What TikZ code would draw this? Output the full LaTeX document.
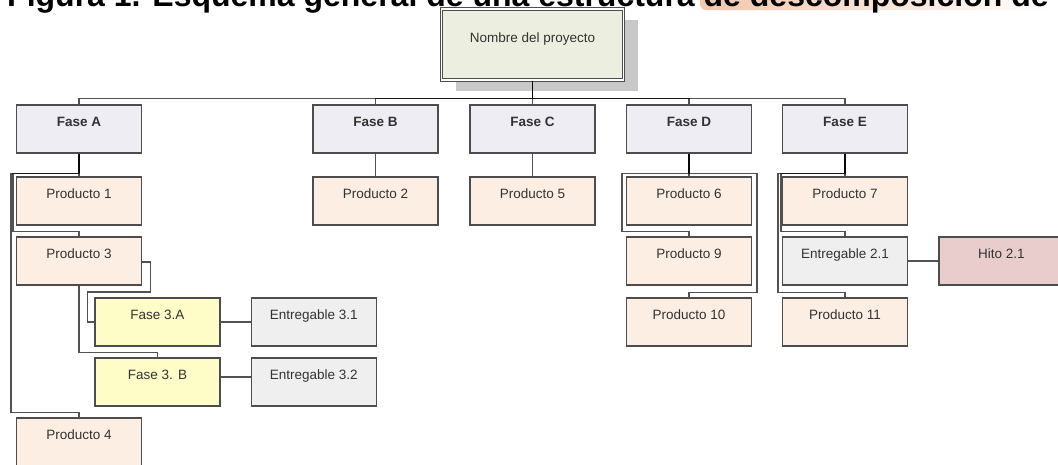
\documentclass[tikz,border=0pt]{standalone}
\usepackage{fontspec}
\setmainfont{Liberation Sans}
\usetikzlibrary{shadows}
\definecolor{boxline}{HTML}{4D4D4D}
\definecolor{fasefill}{HTML}{EDEDF3}
\definecolor{prodfill}{HTML}{FCEEE3}
\definecolor{subfill}{HTML}{FEFDC8}
\definecolor{entfill}{HTML}{EFEFEF}
\definecolor{hitofill}{HTML}{E9CDCD}
\definecolor{rootfill}{HTML}{ECEFDF}
\definecolor{textcol}{HTML}{333333}
\definecolor{shadowcol}{HTML}{C8C8C8}
\definecolor{hlmid}{HTML}{E4A07A}
\definecolor{hlleft}{HTML}{F1C6AC}
\tikzset{
  box/.style={draw=boxline, line width=1.3pt, minimum width=125pt, text height=21pt, text depth=27pt, inner sep=0pt, font=\fontsize{13.5}{16}\selectfont, text=textcol},
  fase/.style={box, fill=fasefill, font=\fontsize{13.5}{16}\selectfont\bfseries},
  prod/.style={box, fill=prodfill},
  subf/.style={box, fill=subfill},
  ent/.style={box, fill=entfill},
  hito/.style={box, fill=hitofill},
  rootbox/.style={draw=boxline, line width=1pt, double=white, double distance=1.6pt, fill=rootfill, minimum width=182pt, text height=33pt, text depth=38pt, inner sep=0pt, font=\fontsize{13.5}{16}\selectfont, text=textcol, drop shadow={shadow xshift=14pt, shadow yshift=-11pt, fill=shadowcol, opacity=1}},
  conn/.style={draw=black, draw opacity=0.68, line width=1.3pt},
  titletext/.style={anchor=base west, inner sep=0pt, font=\fontsize{32}{36}\selectfont\bfseries},
}
\begin{document}
\begin{tikzpicture}[x=1pt, y=1pt]
\fill[white] (0,0) rectangle (1058,-464);
\useasboundingbox (0,0) rectangle (1058,-464);
\clip (0,0) rectangle (1058,-464);
% title highlight
\shade[left color=hlleft, middle color=hlmid, right color=white, rounded corners=6pt] (700,8) rectangle (1054,-10);
\node[titletext] (title) at (7,-6.5) {Figura 1. Esquema general de una estructura de descomposición de};
% root
\node[rootbox] (root) at (532.5,-44.5) {Nombre del proyecto};
% phases
\node[fase] (FA) at (79,-129) {Fase A};
\node[fase] (FB) at (375.5,-129) {Fase B};
\node[fase] (FC) at (532.5,-129) {Fase C};
\node[fase] (FD) at (689,-129) {Fase D};
\node[fase] (FE) at (845,-129) {Fase E};
% row 2
\node[prod] (P1) at (79,-201) {Producto 1};
\node[prod] (P2) at (375.5,-201) {Producto 2};
\node[prod] (P5) at (532.5,-201) {Producto 5};
\node[prod] (P6) at (689,-201) {Producto 6};
\node[prod] (P7) at (845,-201) {Producto 7};
% row 3
\node[prod] (P3) at (79,-261) {Producto 3};
\node[prod] (P9) at (689,-261) {Producto 9};
\node[ent] (E21) at (845,-261) {Entregable 2.1};
\node[hito] (H21) at (1001.5,-261) {Hito 2.1};
% row 4
\node[subf] (F3A) at (157.5,-322) {Fase 3.A};
\node[ent] (E31) at (313.7,-322) {Entregable 3.1};
\node[prod] (P10) at (689,-322) {Producto 10};
\node[prod] (P11) at (845,-322) {Producto 11};
% row 5
\node[subf] (F3B) at (157.5,-382) {Fase 3. B};
\node[ent] (E32) at (313.7,-382) {Entregable 3.2};
% row 6
\node[prod] (P4) at (79,-442) {Producto 4};
% connectors root -> phases
\draw[conn] (root.south) -- ++(0,-18) -| (FA.north);
\draw[conn] (root.south) -- ++(0,-18) -| (FB.north);
\draw[conn] (root.south) -- (FC.north);
\draw[conn] (root.south) -- ++(0,-18) -| (FD.north);
\draw[conn] (root.south) -- ++(0,-18) -| (FE.north);
% Fase A
\draw[conn] (FA.south) -- (P1.north);
\draw[conn] (FA.south) -- ++(0,-20) -- ++(-66,0) |- ([yshift=5]P3.north) -- (P3.north);
\draw[conn] (FA.south) -- ++(0,-20) -- ++(-68,0) |- ([yshift=5]P4.north) -- (P4.north);
% Producto 3
\draw[conn] ([yshift=-1]P3.east) -- ++(8,0) -- ++(0,-30) -- ++(-63,0) |- (F3A.west);
\draw[conn] (P3.south) -- ++(0,-67) -| (F3B.north);
\draw[conn] (F3A.east) -- (E31.west);
\draw[conn] ([yshift=5]F3B.east) -- ([yshift=5]E32.west);
% Fase B, C
\draw[conn] (FB.south) -- (P2.north);
\draw[conn] (FC.south) -- (P5.north);
% Fase D
\draw[conn] (FD.south) -- (P6.north);
\draw[conn] (FD.south) -- ++(0,-20) -- ++(-67,0) |- ([yshift=5]P9.north) -- (P9.north);
\draw[conn] (FD.south) -- ++(0,-20) -- ++(68,0) |- ([yshift=5]P10.north) -- (P10.north);
% Fase E
\draw[conn] (FE.south) -- (P7.north);
\draw[conn] (FE.south) -- ++(0,-20) -- ++(-64,0) |- ([yshift=5]E21.north) -- (E21.north);
\draw[conn] (FE.south) -- ++(0,-20) -- ++(-67,0) |- ([yshift=5]P11.north) -- (P11.north);
\draw[conn] (E21.east) -- (H21.west);
\end{tikzpicture}
\end{document}
